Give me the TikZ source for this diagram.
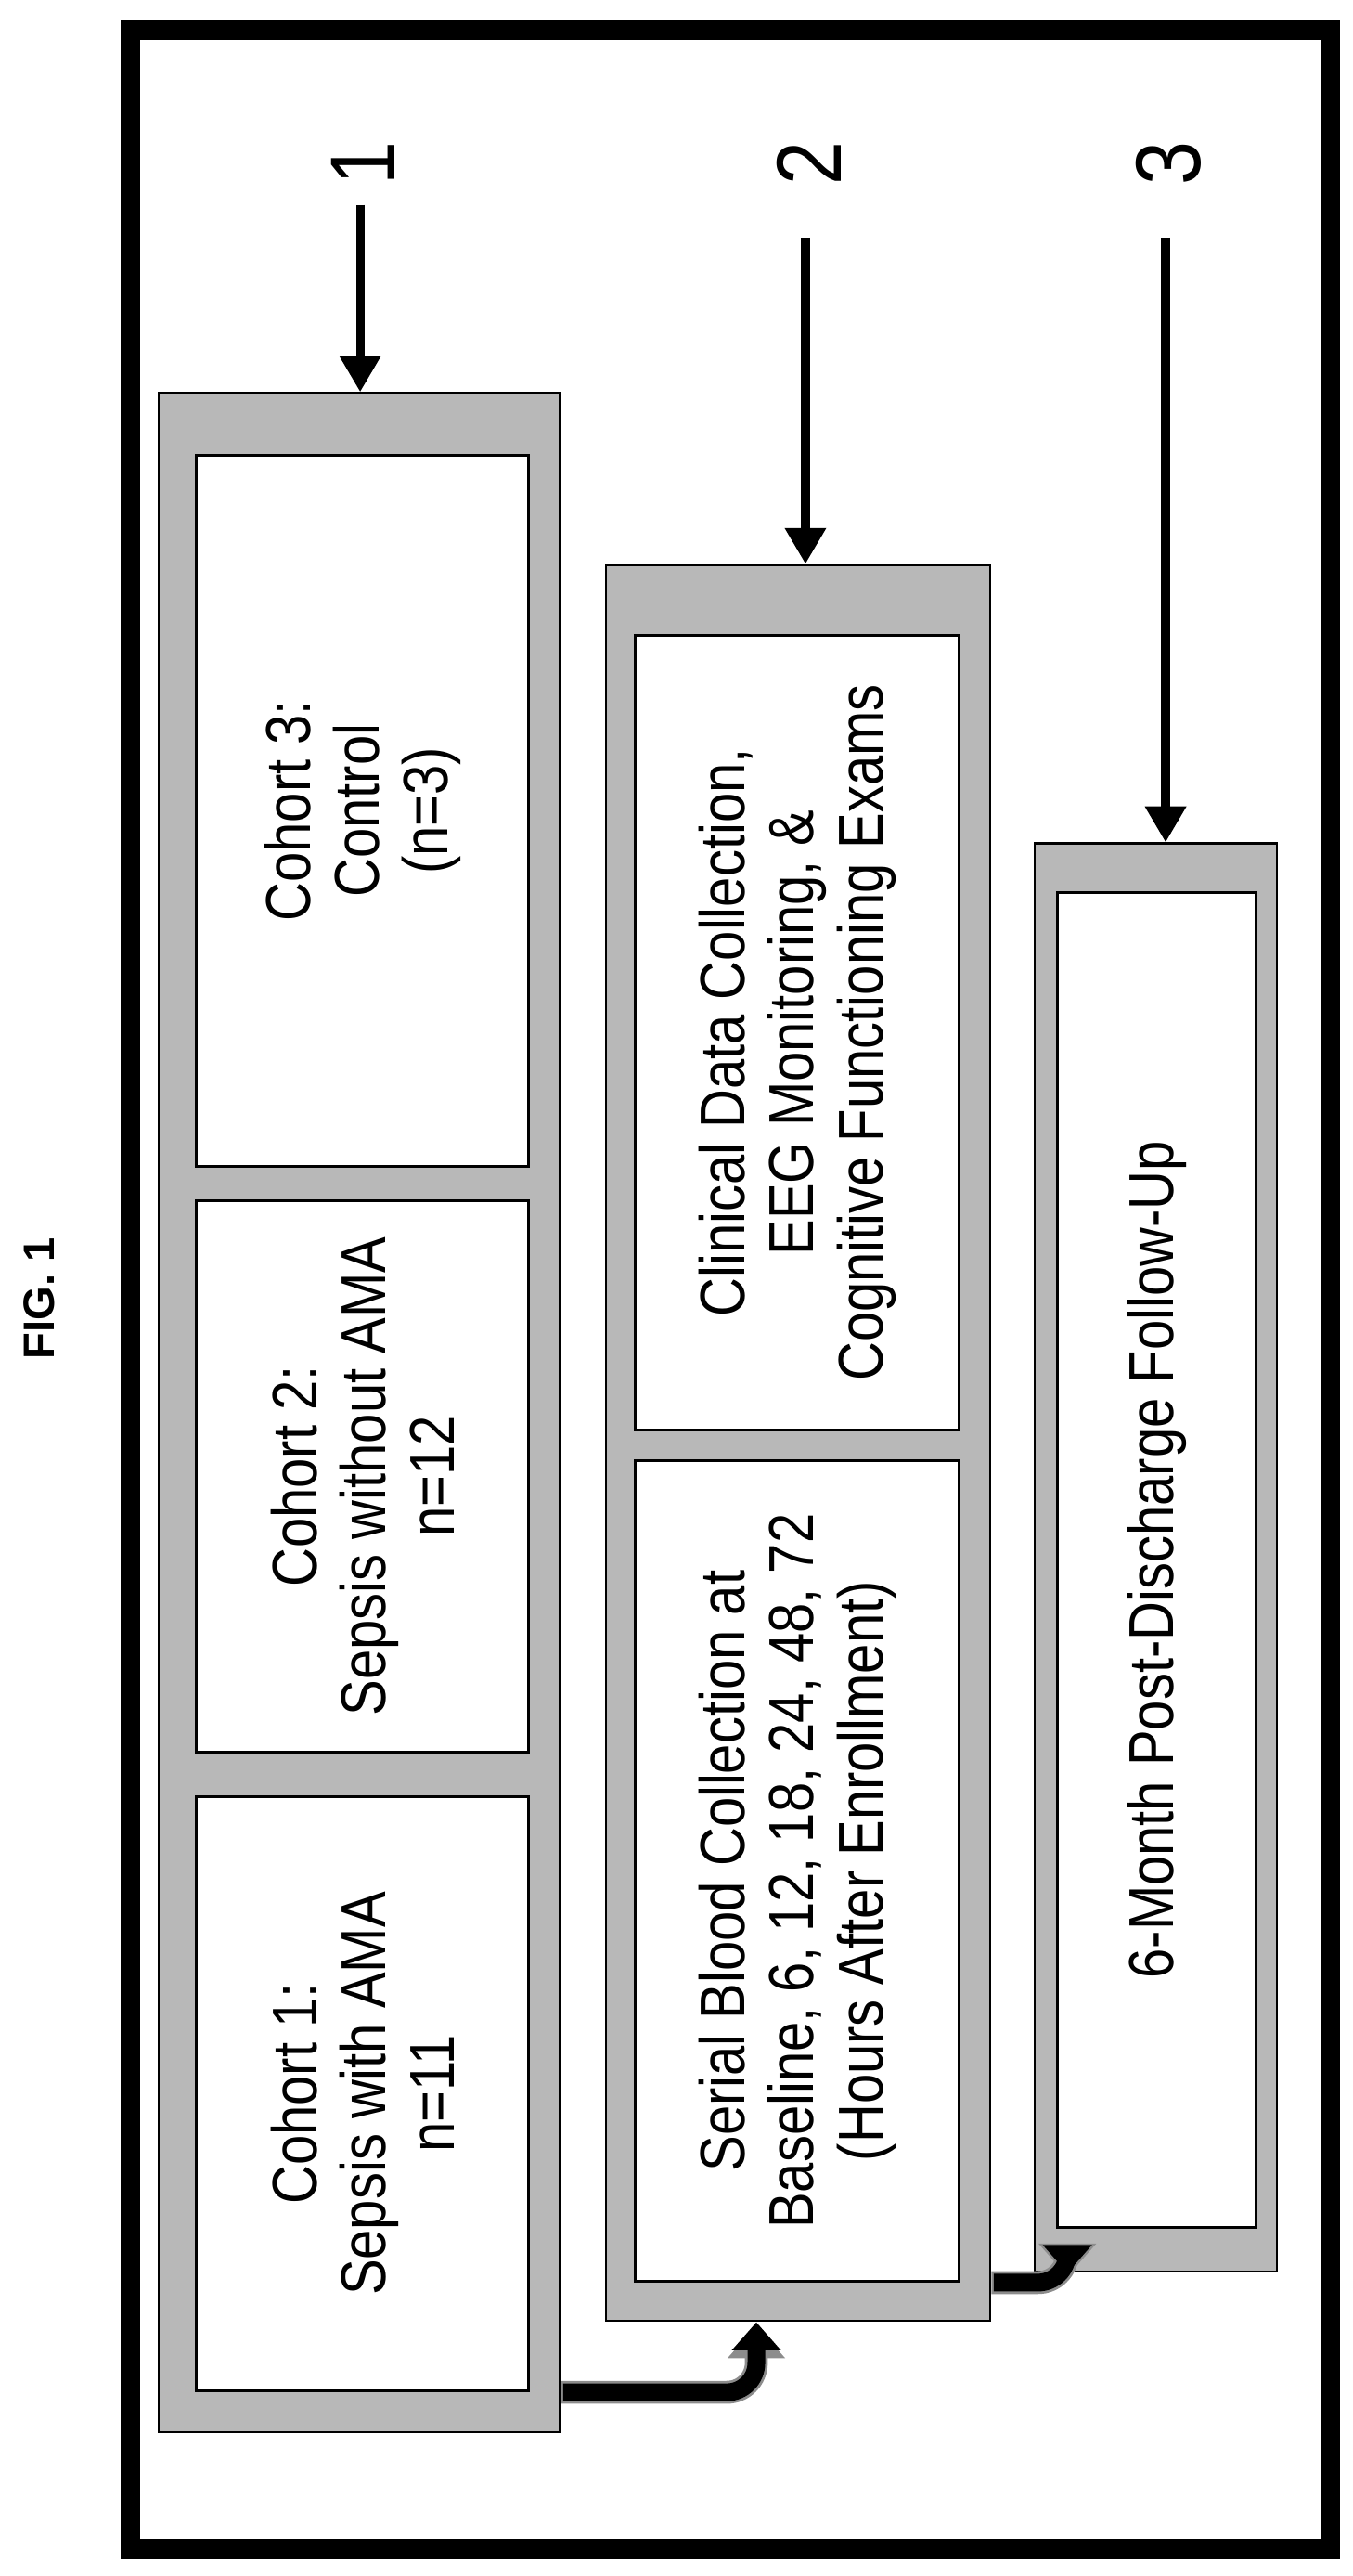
\documentclass[tikz,border=0pt]{standalone}
\usepackage{fontspec}
\setmainfont{Liberation Sans}[FakeStretch=0.85]
\newfontfamily\figfont{Liberation Sans}
\usetikzlibrary{arrows.meta}
\begin{document}
\begin{tikzpicture}[x=0.5mm,y=-0.5mm,
  grp/.style={draw=black,line width=0.6mm,fill=black!28,inner sep=0},
  box/.style={draw=black,line width=0.8mm,fill=white,inner sep=0},
  txt/.style={rotate=90,align=center,font=\fontsize{55}{60}\selectfont},
  num/.style={rotate=90,font=\fontsize{80}{80}\selectfont},
  varr/.style={line width=2.6mm,-{Triangle[length=11mm,width=12mm]}},
  fat/.style={line width=7mm,rounded corners=9mm,draw=black!45,-{Triangle[length=10mm,width=17mm]}},
  fatin/.style={line width=5.4mm,rounded corners=9mm,draw=black,-{Triangle[length=8.6mm,width=14.5mm]}}]
\useasboundingbox (0,0) rectangle (826,1573);
\node[draw=black,line width=6mm,minimum width=366.5mm,minimum height=769mm,inner sep=0] (frame) at (446,787.5) {};
\node[rotate=90,font=\figfont\bfseries\fontsize{38}{38}\selectfont] (fig) at (24,793) {FIG. 1};
% group 1
\node[grp,minimum width=122.5mm,minimum height=622.5mm] (g1) at (219.5,862.5) {};
\node[box,minimum width=101.5mm,minimum height=217mm] (c3) at (221.5,495) {};
\node[box,minimum width=101.5mm,minimum height=168.5mm] (c2) at (221.5,901.5) {};
\node[box,minimum width=101.5mm,minimum height=181.5mm] (c1) at (221.5,1278.5) {};
\node[txt] (t3) at (c3) {Cohort 3:\\Control\\(n=3)};
\node[txt] (t2) at (c2) {Cohort 2:\\Sepsis without AMA\\n=12};
\node[txt] (t1) at (c1) {Cohort 1:\\Sepsis with AMA\\n=11};
% group 2
\node[grp,minimum width=117.5mm,minimum height=536mm] (g2) at (487.5,881) {};
\node[box,minimum width=99mm,minimum height=242.5mm] (cl) at (487,630.5) {};
\node[box,minimum width=99mm,minimum height=250.5mm] (se) at (487,1142.5) {};
\node[txt] (tcl) at (cl) {Clinical Data Collection,\\EEG Monitoring, \&\\Cognitive Functioning Exams};
\node[txt] (tse) at (se) {Serial Blood Collection at\\Baseline, 6, 12, 18, 24, 48, 72\\(Hours After Enrollment)};
% group 3
\node[grp,minimum width=74mm,minimum height=436mm] (g3) at (706,951) {};
\node[box,minimum width=60.5mm,minimum height=407.5mm] (fo) at (706.5,952.5) {};
\node[txt] (tfo) at (fo) {6-Month Post-Discharge Follow-Up};
% numbers and arrows
\node[num] (n1) at (222,100) {1};
\node[num] (n2) at (494,100) {2};
\node[num] (n3) at (714,100) {3};
\coordinate (s1) at (220,125);
\coordinate (s2) at (492,145);
\coordinate (s3) at (712,145);
\draw[varr] (s1) -- (g1.north -| s1);
\draw[varr] (s2) -- (g2.north -| s2);
\draw[varr] (s3) -- (g3.north -| s3);
\coordinate (e1) at (462,1420);
\coordinate (e2) at (652,1390);
\draw[fat] (g1.east |- c1.south) -| (e1);
\draw[fatin] ([xshift=0.7mm]g1.east |- c1.south) -| ([yshift=1mm]e1);
\draw[fat] (g2.east |- se.south) -| (e2);
\draw[fatin] ([xshift=0.7mm]g2.east |- se.south) -| ([yshift=1mm]e2);
\end{tikzpicture}
\end{document}
